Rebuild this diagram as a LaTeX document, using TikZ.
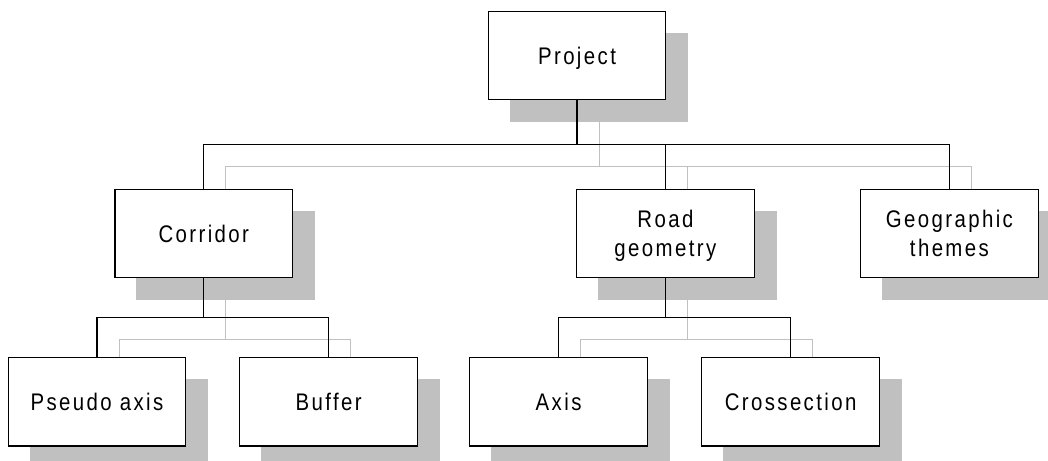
\documentclass[tikz,border=0pt]{standalone}
\usepackage{fontspec}
\setmainfont{Liberation Sans}[FakeStretch=0.85,LetterSpace=10]
\usetikzlibrary{positioning}
\usetikzlibrary{calc}
\pgfdeclarelayer{background}
\pgfsetlayers{background,main}
\definecolor{shadowgray}{RGB}{192,192,192}

\begin{document}
\begin{tikzpicture}[every node/.append style={on grid},
                    box/.style={draw,line width=0.9pt,fill=white,minimum width=4.44cm,minimum height=2.21cm,
                                inner sep=0pt,align=center,text depth=0pt,font=\fontsize{17.07pt}{20.4pt}\selectfont},
                    bus/.style={to path={(\tikztostart) |- ($(\tikztostart)!0.5!(\tikztotarget)$) -| (\tikztotarget)}}]

\useasboundingbox (0,0) rectangle (26.2,-11.525);
\clip (0,0) rectangle (26.2,-11.525);

\node[box] (project) at (14.425,-1.3875) {Project};
\node[box,below left=4.45cm and 9.33cm of project] (corridor) {Corridor};
\node[box,below right=4.45cm and 2.21cm of project] (road) {Road\\geometry};
\node[box,below right=4.45cm and 9.31cm of project] (geo) {Geographic\\themes};
\node[box,below left=4.21cm and 2.67cm of corridor] (pseudo) {Pseudo axis};
\node[box,below right=4.21cm and 3.12cm of corridor] (buffer) {Buffer};
\node[box,below left=4.21cm and 2.67cm of road] (axis) {Axis};
\node[box,below right=4.21cm and 3.13cm of road] (cross) {Crossection};

\begin{pgfonlayer}{background}
% shadows of the boxes
\foreach \n in {project,corridor,road,geo,pseudo,buffer,axis,cross}
  \fill[shadowgray] ([shift={(0.55,-0.55)}]\n.north west) rectangle ([shift={(0.55,-0.55)}]\n.south east);
% connectors: gray shadow first, then black
\foreach \d/\col/\lw in {0.55/shadowgray/0.7pt, 0/black/0.9pt}{
  \begin{scope}[transform canvas={shift={(\d,-\d)}},draw=\col,line width=\lw]
  \draw (project) edge[bus] (corridor)
                  edge[bus] (road)
                  edge[bus] (geo);
  \draw (corridor) edge[bus] (pseudo)
                   edge[bus] (buffer);
  \draw (road) edge[bus] (axis)
               edge[bus] (cross);
  \end{scope}
}
\end{pgfonlayer}

\end{tikzpicture}
\end{document}
